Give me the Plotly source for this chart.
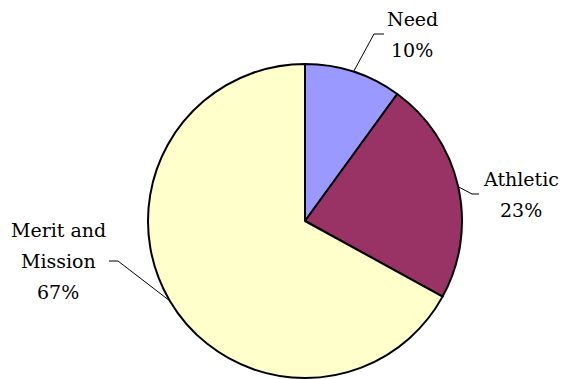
import math
import plotly.graph_objects as go

# ---- data ----
categories = ["Need", "Athletic", "Merit and<br>Mission"]
values = [10, 23, 67]
colors = ["#9999FF", "#993366", "#FFFFCC"]

# ---- layout constants (pixels) ----
W, H = 561, 379
CX, CY, R = 305, 221, 157
FONT = dict(family="DejaVu Serif", size=19, color="black")
LINE_GAP = 31
# per-label: elbow point, tail end, text centre x, first-line centre y
LABEL_LAYOUT = [
    dict(elbow=(374, 34), tail=(384, 34), tx=412, ty=19),
    dict(elbow=(472, 194), tail=(479, 194), tx=521, ty=179),
    dict(elbow=(118, 261), tail=(109, 261), tx=58, ty=230),
]


def px(x):
    return x / W


def py(y):
    return 1 - y / H


fig = go.Figure(
    go.Pie(
        labels=categories,
        values=values,
        sort=False,
        direction="clockwise",
        rotation=0,
        marker=dict(colors=colors, line=dict(color="black", width=2)),
        textinfo="none",
        hoverinfo="label+percent",
        showlegend=False,
        domain=dict(x=[px(CX - R), px(CX + R)], y=[py(CY + R), py(CY - R)]),
    )
)

total = sum(values)
cum = 0
shapes = []
annotations = []
for cat, v, lay in zip(categories, values, LABEL_LAYOUT):
    mid = (cum + v / 2) / total * 2 * math.pi
    cum += v
    ex = CX + R * math.sin(mid)
    ey = CY - R * math.cos(mid)
    (bx, by), (tx, ty) = lay["elbow"], lay["tail"]
    for (x0, y0, x1, y1) in [(ex, ey, bx, by), (bx, by, tx, ty)]:
        shapes.append(dict(type="line", xref="paper", yref="paper",
                           x0=px(x0), y0=py(y0), x1=px(x1), y1=py(y1),
                           line=dict(color="black", width=1)))
    pct = round(v / total * 100)
    lines = cat.split("<br>") + [f"{pct}%"]
    for i, ln in enumerate(lines):
        annotations.append(dict(
            text=ln, xref="paper", yref="paper",
            x=px(lay["tx"]), y=py(lay["ty"] + i * LINE_GAP),
            xanchor="center", yanchor="middle", align="center",
            showarrow=False, font=FONT,
        ))

fig.update_layout(
    width=W, height=H,
    margin=dict(l=0, r=0, t=0, b=0),
    paper_bgcolor="white",
    plot_bgcolor="white",
    font=FONT,
    shapes=shapes,
    annotations=annotations,
)

fig.write_html("out.html")
